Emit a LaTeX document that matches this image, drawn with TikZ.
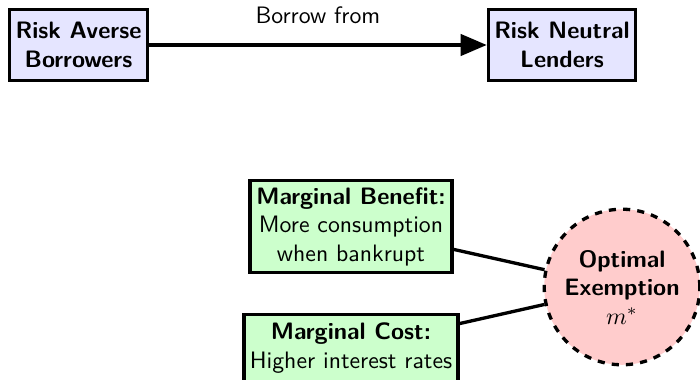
\documentclass[tikz,border=0pt]{standalone}
\usetikzlibrary{arrows.meta}
\begin{document}
\begin{tikzpicture}[x=0.42105pt,y=-0.42105pt,font=\sffamily,
  basebox/.style={draw=black,line width=1.4pt,align=center,inner sep=0pt},
  agentbox/.style={basebox,fill=blue!10,font=\sffamily\bfseries,minimum height=30pt},
  tradeoffbox/.style={basebox,fill=green!20},
  optimum/.style={circle,draw=black,fill=red!20,line width=1.4pt,dashed,align=center,minimum size=65.5pt,inner sep=0pt,font=\sffamily\bfseries},
  link/.style={line width=1.4pt}]
\useasboundingbox (0,0) rectangle (700,379);
\node[agentbox,minimum width=58pt] (bor) at (78.5,45) {Risk Averse\\Borrowers};
\node[agentbox,minimum width=62pt] (len) at (562,45) {Risk Neutral\\Lenders};
\draw[link,-{Triangle[length=11pt,width=9pt]}] (bor) -- node[above=5pt,font=\sffamily\mdseries] (lbl) {Borrow from} (len);
\node[tradeoffbox,minimum width=85pt,minimum height=39pt] (mb) at (351,226.5) {\textbf{Marginal Benefit:}\\More consumption\\when bankrupt};
\node[tradeoffbox,minimum width=90pt,minimum height=28pt] (mc) at (351,348) {\textbf{Marginal Cost:}\\Higher interest rates};
\node[optimum] (opt) at (622,287) {Optimal\\Exemption\\$m^*$};
\draw[link] (mb) -- (opt);
\draw[link] (mc) -- (opt);
\end{tikzpicture}
\end{document}
